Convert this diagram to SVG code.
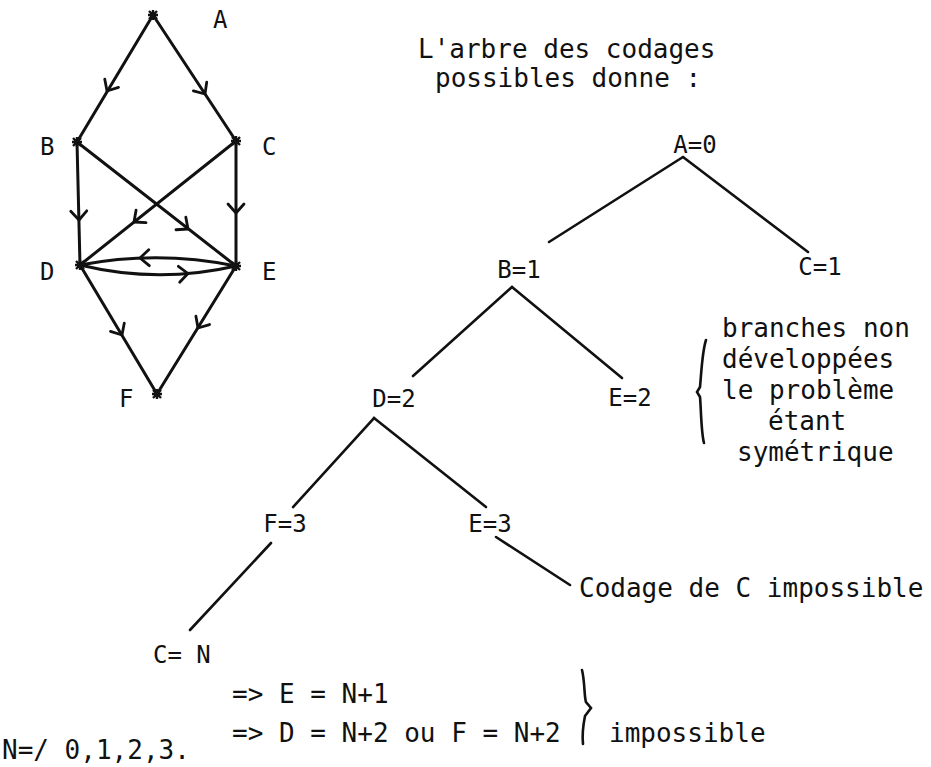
<svg xmlns="http://www.w3.org/2000/svg" width="931" height="767" viewBox="0 0 931 767">
<style>
.e{stroke:#111;stroke-width:3;fill:none;stroke-linecap:round}
.t{stroke:#111;stroke-width:2.6;fill:none;stroke-linecap:round}
.ch{stroke:#111;stroke-width:2.8;fill:none;stroke-linecap:round;stroke-linejoin:round}
.st{stroke:#111;stroke-width:2.4;fill:none}
.lbl{font-family:"DejaVu Sans Mono","Liberation Mono",monospace;font-size:24px;fill:#111}
.tl{font-family:"DejaVu Sans Mono","Liberation Mono",monospace;font-size:24px;fill:#111}
.tx{font-family:"DejaVu Sans Mono","Liberation Mono",monospace;font-size:26px;fill:#111}
</style>
<defs>
<path id="chev" d="M-9,-8 L0,0 L-9,8"/>
<path id="star" d="M-5,0 H5 M0,-5 V5 M-4,-4 L4,4 M-4,4 L4,-4"/>
</defs>
<rect width="931" height="767" fill="#fff"/>
<g id="connectors">
<line class="e" x1="153" y1="15" x2="77" y2="142"/>
<line class="e" x1="153" y1="15" x2="236" y2="141"/>
<line class="e" x1="77" y1="142" x2="80" y2="265"/>
<line class="e" x1="236" y1="141" x2="236" y2="266"/>
<line class="e" x1="77" y1="142" x2="236" y2="266"/>
<line class="e" x1="236" y1="141" x2="80" y2="265"/>
<path class="e" d="M80,265 Q158,250 236,266"/>
<path class="e" d="M80,265 Q158,284 236,266"/>
<line class="e" x1="80" y1="265" x2="157" y2="394"/>
<line class="e" x1="236" y1="266" x2="157" y2="394"/>
<use href="#chev" class="ch" transform="translate(107,91) rotate(121)"/>
<use href="#chev" class="ch" transform="translate(205,94) rotate(56.6)"/>
<use href="#chev" class="ch" transform="translate(79,220) rotate(88.6)"/>
<use href="#chev" class="ch" transform="translate(236,213) rotate(90)"/>
<use href="#chev" class="ch" transform="translate(188,229) rotate(38)"/>
<use href="#chev" class="ch" transform="translate(134,222) rotate(141.5)"/>
<use href="#chev" class="ch" transform="translate(140,258) rotate(178)"/>
<use href="#chev" class="ch" transform="translate(188,273.5) rotate(-4.8)"/>
<use href="#chev" class="ch" transform="translate(122,335) rotate(59.2)"/>
<use href="#chev" class="ch" transform="translate(198,328) rotate(121.7)"/>
<line class="t" x1="683" y1="157" x2="549" y2="242"/>
<line class="t" x1="683" y1="157" x2="808" y2="252"/>
<line class="t" x1="512" y1="287" x2="413" y2="376"/>
<line class="t" x1="512" y1="287" x2="622" y2="378"/>
<line class="t" x1="374" y1="418" x2="293" y2="507"/>
<line class="t" x1="374" y1="418" x2="486" y2="507"/>
<line class="t" x1="271" y1="543" x2="190" y2="630"/>
<line class="t" x1="496" y1="537" x2="570" y2="585"/>
</g>
<g id="nA"><use href="#star" class="st" x="153" y="15"/><text class="lbl" x="213" y="28">A</text></g>
<g id="nB"><use href="#star" class="st" x="77" y="142"/><text class="lbl" x="40" y="155">B</text></g>
<g id="nC"><use href="#star" class="st" x="236" y="141"/><text class="lbl" x="262" y="155">C</text></g>
<g id="nD"><use href="#star" class="st" x="80" y="265"/><text class="lbl" x="40" y="280">D</text></g>
<g id="nE"><use href="#star" class="st" x="236" y="266"/><text class="lbl" x="262" y="280">E</text></g>
<g id="nF"><use href="#star" class="st" x="157" y="394"/><text class="lbl" x="119" y="407">F</text></g>
<g id="title">
<text class="tx" x="418" y="58">L'arbre des codages</text>
<text class="tx" x="435" y="87">possibles donne :</text>
</g>
<g id="tA0"><text class="tl" x="695" y="153" text-anchor="middle">A=0</text></g>
<g id="tB1"><text class="tl" x="519" y="278" text-anchor="middle">B=1</text></g>
<g id="tC1"><text class="tl" x="820" y="275" text-anchor="middle">C=1</text></g>
<g id="tD2"><text class="tl" x="394" y="407" text-anchor="middle">D=2</text></g>
<g id="tE2"><text class="tl" x="630" y="406" text-anchor="middle">E=2</text></g>
<g id="tF3"><text class="tl" x="285" y="532" text-anchor="middle">F=3</text></g>
<g id="tE3"><text class="tl" x="490" y="532" text-anchor="middle">E=3</text></g>
<g id="tCN"><text class="tl" x="153" y="663">C= N</text></g>
<g id="note">
<path class="t" d="M706,340 C702,352 701,378 700,387 L697,392 L700,397 C701,406 701,432 704,443"/>
<text class="tx" x="722" y="337">branches non</text>
<text class="tx" x="722" y="368">développées</text>
<text class="tx" x="722" y="399">le problème</text>
<text class="tx" x="768" y="430">étant</text>
<text class="tx" x="737" y="461">symétrique</text>
</g>
<g id="codage"><text class="tx" x="579" y="597">Codage de C impossible</text></g>
<g id="impl">
<text class="tx" x="232" y="703">=&gt; E = N+1</text>
<text class="tx" x="232" y="742">=&gt; D = N+2 ou F = N+2</text>
<path class="t" d="M582,670 C585,682 584,696 586,702 L591,708 L585,716 C583,726 582,735 583,744"/>
<text class="tx" x="609" y="742">impossible</text>
</g>
<g id="nfoot"><text class="tx" x="2" y="759">N=/ 0,1,2,3.</text></g>
</svg>
